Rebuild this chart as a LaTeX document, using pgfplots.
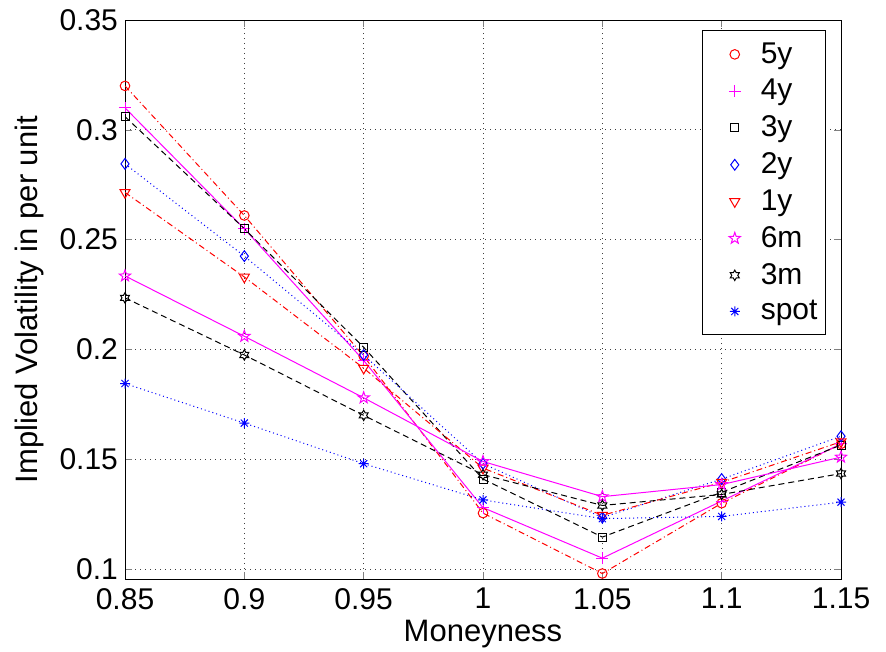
\documentclass[border=0pt]{standalone}
\usepackage{fontspec}
\setmainfont{Liberation Sans}
\usepackage{pgfplots}
\usepackage{pgfplotstable}
\pgfplotsset{compat=1.18}

\definecolor{mred}{rgb}{1,0,0}
\definecolor{mmag}{rgb}{1,0,1}
\definecolor{mblue}{rgb}{0,0,1}

% MATLAB-like marks
\pgfdeclareplotmark{pentagram}{%
  \pgfpathmoveto{\pgfpointpolar{90}{\pgfplotmarksize}}%
  \pgfpathlineto{\pgfpointpolar{126}{0.4\pgfplotmarksize}}%
  \pgfpathlineto{\pgfpointpolar{162}{\pgfplotmarksize}}%
  \pgfpathlineto{\pgfpointpolar{198}{0.4\pgfplotmarksize}}%
  \pgfpathlineto{\pgfpointpolar{234}{\pgfplotmarksize}}%
  \pgfpathlineto{\pgfpointpolar{270}{0.4\pgfplotmarksize}}%
  \pgfpathlineto{\pgfpointpolar{306}{\pgfplotmarksize}}%
  \pgfpathlineto{\pgfpointpolar{342}{0.4\pgfplotmarksize}}%
  \pgfpathlineto{\pgfpointpolar{18}{\pgfplotmarksize}}%
  \pgfpathlineto{\pgfpointpolar{54}{0.4\pgfplotmarksize}}%
  \pgfpathclose\pgfusepathqstroke}
\pgfdeclareplotmark{hexagram}{%
  \pgfpathmoveto{\pgfpointpolar{90}{\pgfplotmarksize}}%
  \pgfpathlineto{\pgfpointpolar{120}{0.577\pgfplotmarksize}}%
  \pgfpathlineto{\pgfpointpolar{150}{\pgfplotmarksize}}%
  \pgfpathlineto{\pgfpointpolar{180}{0.577\pgfplotmarksize}}%
  \pgfpathlineto{\pgfpointpolar{210}{\pgfplotmarksize}}%
  \pgfpathlineto{\pgfpointpolar{240}{0.577\pgfplotmarksize}}%
  \pgfpathlineto{\pgfpointpolar{270}{\pgfplotmarksize}}%
  \pgfpathlineto{\pgfpointpolar{300}{0.577\pgfplotmarksize}}%
  \pgfpathlineto{\pgfpointpolar{330}{\pgfplotmarksize}}%
  \pgfpathlineto{\pgfpointpolar{0}{0.577\pgfplotmarksize}}%
  \pgfpathlineto{\pgfpointpolar{30}{\pgfplotmarksize}}%
  \pgfpathlineto{\pgfpointpolar{60}{0.577\pgfplotmarksize}}%
  \pgfpathclose\pgfusepathqstroke}
\pgfdeclareplotmark{mstar}{%
  \pgfpathmoveto{\pgfpointpolar{0}{\pgfplotmarksize}}\pgfpathlineto{\pgfpointpolar{180}{\pgfplotmarksize}}%
  \pgfpathmoveto{\pgfpointpolar{45}{\pgfplotmarksize}}\pgfpathlineto{\pgfpointpolar{225}{\pgfplotmarksize}}%
  \pgfpathmoveto{\pgfpointpolar{90}{\pgfplotmarksize}}\pgfpathlineto{\pgfpointpolar{270}{\pgfplotmarksize}}%
  \pgfpathmoveto{\pgfpointpolar{135}{\pgfplotmarksize}}\pgfpathlineto{\pgfpointpolar{315}{\pgfplotmarksize}}%
  \pgfusepathqstroke}

\tikzset{
  mdash/.style={dash pattern=on 3pt off 2pt},
  mdashdot/.style={dash pattern=on 3pt off 1.5pt on 0.5pt off 1.5pt},
  mdot/.style={dash pattern=on 0.5pt off 1.5pt},
}
% legend cell: one marker with room on both sides
\pgfplotsset{mleg/.style={legend image code/.code={%
    \path[draw=none, fill=none] (0pt,0pt) -- (25pt,0pt);
    \draw[##1] plot coordinates {(14pt,0pt)};}}}

% implied vol by moneyness, one column per maturity
\pgfplotstableread{
x     y5     y4     y3     y2     y1     m6     m3     spot
0.85  0.320  0.310  0.306  0.2845 0.2715 0.2335 0.2235 0.1845
0.90  0.261  0.255  0.255  0.2425 0.233  0.206  0.1975 0.1665
0.95  0.197  0.195  0.201  0.1975 0.1915 0.178  0.170  0.148
1.00  0.1255 0.128  0.141  0.148  0.146  0.149  0.143  0.1315
1.05  0.098  0.105  0.1146 0.1235 0.1245 0.133  0.129  0.123
1.10  0.130  0.131  0.135  0.141  0.1395 0.1385 0.134  0.124
1.15  0.157  0.157  0.1565 0.1605 0.158  0.151  0.1435 0.1305
}\vol

\begin{document}
\begin{tikzpicture}
\begin{axis}[
  scale only axis,
  width=358pt, height=279.5pt,
  xmin=0.85, xmax=1.15,
  ymin=0.0955, ymax=0.35,
  xtick={0.85,0.9,0.95,1,1.05,1.1,1.15},
  ytick={0.1,0.15,0.2,0.25,0.3,0.35},
  /pgf/number format/assume math mode=true,
  tick label style={font=\fontsize{15}{17}\selectfont},
  xticklabel style={yshift=-1pt},
  label style={font=\fontsize{15.5}{17}\selectfont},
  xlabel={Moneyness},
  ylabel={Implied Volatility in per unit},
  xlabel style={yshift=1.5pt},
  ylabel style={yshift=1pt},
  tick align=inside, tick pos=both,
  major tick length=3.5pt,
  grid=major,
  grid style={black!75, line width=0.4pt, dash pattern=on 0.5pt off 2pt},
  axis line style={line width=0.5pt},
  every axis plot/.append style={line width=0.5pt},
  legend style={at={(0.979,0.982)}, anchor=north east, draw=black, line width=0.5pt,
    font=\fontsize{15}{16}\selectfont, row sep=2.5pt, inner xsep=2pt, inner ysep=4pt,
    cells={anchor=west}},
]
\coordinate (sw) at (rel axis cs:0,0);
\coordinate (ne) at (rel axis cs:1,1);
% lines (no legend)
\addplot[mred, mdashdot, forget plot] table[x=x, y=y5] {\vol};
\addplot[mmag, solid, forget plot] table[x=x, y=y4] {\vol};
\addplot[black, mdash, forget plot] table[x=x, y=y3] {\vol};
\addplot[mblue, mdot, forget plot] table[x=x, y=y2] {\vol};
\addplot[mred, mdashdot, forget plot] table[x=x, y=y1] {\vol};
\addplot[mmag, solid, forget plot] table[x=x, y=m6] {\vol};
\addplot[black, mdash, forget plot] table[x=x, y=m3] {\vol};
\addplot[mblue, mdot, forget plot] table[x=x, y=spot] {\vol};
% markers (legend shows markers only)
\addplot[mred, only marks, mark=o, mark size=2.4pt, mleg] table[x=x, y=y5] {\vol};
\addlegendentry{5y}
\addplot[mmag, only marks, mark=+, mark size=3pt, mleg] table[x=x, y=y4] {\vol};
\addlegendentry{4y}
\addplot[black, only marks, mark=square, mark size=2pt, mleg] table[x=x, y=y3] {\vol};
\addlegendentry{3y}
\addplot[mblue, only marks, mark=diamond, mark size=2.7pt, mleg] table[x=x, y=y2] {\vol};
\addlegendentry{2y}
\addplot[mred, only marks, mark=triangle, mark size=2.9pt, mark options={rotate=180}, mleg] table[x=x, y=y1] {\vol};
\addlegendentry{1y}
\addplot[mmag, only marks, mark=pentagram, mark size=3pt, mleg] table[x=x, y=m6] {\vol};
\addlegendentry{6m}
\addplot[black, only marks, mark=hexagram, mark size=2.6pt, mleg] table[x=x, y=m3] {\vol};
\addlegendentry{3m}
\addplot[mblue, only marks, mark=mstar, mark size=2.5pt, mleg] table[x=x, y=spot] {\vol};
\addlegendentry{spot}
\end{axis}
\pgfresetboundingbox
\path ([shift={(-62.5pt,-36pt)}]sw) rectangle ([shift={(22.5pt,10pt)}]ne);
\end{tikzpicture}
\end{document}
